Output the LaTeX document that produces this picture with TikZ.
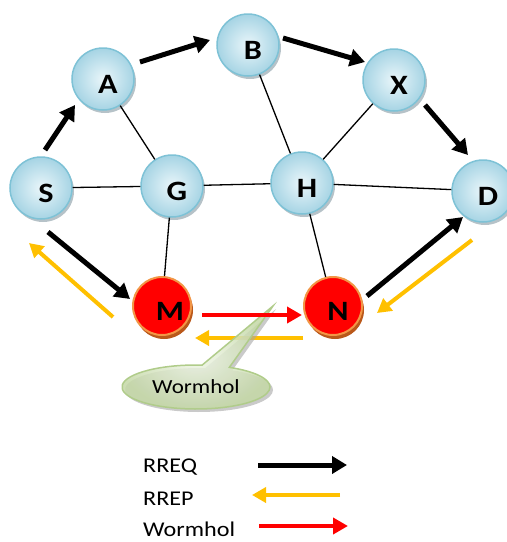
\documentclass[tikz,border=0pt]{standalone}
\usepackage{fontspec}
\setmainfont{Carlito}[FakeStretch=1.15]
\usetikzlibrary{arrows.meta,shadows,shapes.callouts}
\definecolor{nodeblue}{RGB}{166,212,228}
\definecolor{nodelight}{RGB}{234,246,250}
\definecolor{nodeedge}{RGB}{126,194,214}
\definecolor{rrepyellow}{RGB}{255,192,0}
\definecolor{wormedge}{RGB}{242,150,70}
\definecolor{wormshadow}{RGB}{186,88,26}
\definecolor{bubblelight}{RGB}{240,246,232}
\definecolor{bubbledark}{RGB}{196,216,166}
\definecolor{bubbleedge}{RGB}{176,204,138}
\tikzset{
	>=latex,
}
\tikzstyle{station}=[circle,minimum size=62pt,inner sep=0pt,
    draw=nodeedge,line width=1.5pt,inner color=nodelight,outer color=nodeblue,
    drop shadow={shadow xshift=2pt,shadow yshift=-3pt,fill=gray!80!cyan,opacity=.6}]
\tikzstyle{rogue}=[circle,minimum size=58pt,inner sep=0pt,
    draw=wormedge,line width=2pt,fill=red,
    drop shadow={shadow xshift=2pt,shadow yshift=-4pt,fill=wormshadow,opacity=1}]
\tikzstyle{tagtext}=[inner sep=0pt,xshift=5pt,yshift=-5pt,font=\fontsize{28}{30}\selectfont\bfseries]
\tikzstyle{bubble}=[ellipse callout,minimum width=148pt,minimum height=44pt,inner sep=0pt,
    callout pointer arc=22,draw=bubbleedge,line width=1.5pt,
    inner color=bubblelight,outer color=bubbledark,fill opacity=.85,text opacity=1,
    drop shadow={shadow xshift=3pt,shadow yshift=-3pt,fill=gray!70,opacity=.6},
    font=\fontsize{20}{22}\selectfont]
\tikzstyle{link}=[line width=1.3pt]
\tikzstyle{rreq}=[line width=5pt,-{Triangle[length=15pt,width=17pt]}]
\tikzstyle{rrep}=[line width=4pt,rrepyellow,-{Triangle[length=14pt,width=15pt]}]
\tikzstyle{worm}=[line width=4.5pt,red,-{Triangle[length=15pt,width=16pt]}]
\tikzstyle{legend}=[anchor=base west,inner sep=0pt,font=\fontsize{21}{23}\selectfont]

\begin{document}
\begin{tikzpicture}[x=1pt,y=-1pt]
      \useasboundingbox (0,0) rectangle (507,542);
      \node[station,label={[tagtext]center:A}] (A) at (103,79) {};
      \node[station,label={[tagtext]center:B}] (B) at (248,45) {};
      \node[station,label={[tagtext]center:X}] (X) at (394,80) {};
      \node[station,label={[tagtext]center:S}] (S) at (41,188) {};
      \node[station,label={[tagtext]center:G}] (G) at (172,186) {};
      \node[station,label={[tagtext]center:H}] (H) at (302,183) {};
      \node[station,label={[tagtext]center:D}] (D) at (483,191) {};
      \node[rogue,label={[tagtext,xshift=3pt]center:M}] (M) at (162,306) {};
      \node[rogue,label={[tagtext]center:N}] (N) at (333,306) {};
      % plain links
      \draw[link] (S)--(G);
      \draw[link] (G)--(H);
      \draw[link] (H)--(D);
      \draw[link] (A)--(G);
      \draw[link] (B)--(H);
      \draw[link] (X)--(H);
      \draw[link] (G)--(M);
      \draw[link] (H)--(N);
      % route request
      \draw[rreq] ([shift={(4,-38)}]S.center)--([shift={(-28,26)}]A.center);
      \draw[rreq] ([shift={(37,-17)}]A.center)--([shift={(-38,-5)}]B.center);
      \draw[rreq] ([shift={(35,-7)}]B.center)--([shift={(-29,-18)}]X.center);
      \draw[rreq] ([shift={(31,25)}]X.center)--([shift={(-15,-36)}]D.center);
      \draw[rreq] ([shift={(7,44)}]S.center)--([shift={(-32,-7)}]M.center);
      \draw[rreq] ([shift={(34,-10)}]N.center)--([shift={(-20,26)}]D.center);
      % route reply
      \draw[rrep] ([shift={(-11,49)}]D.center)--([shift={(44,7)}]N.center);
      \draw[rrep] ([shift={(-30,32)}]N.center)--([shift={(33,32)}]M.center);
      \draw[rrep] ([shift={(-49,11)}]M.center)--([shift={(-12,55)}]S.center);
      \coordinate (tip) at (273,306);
      \node[bubble,callout absolute pointer={(tip)}] (hole) at (196,387) {Wormhol};
      \draw[worm] ([shift={(40,9)}]M.center)--([shift={(-31,9)}]N.center);
      % legend
      \node[legend] (lreq) at (143,472) {RREQ};
      \node[legend] (lrep) at (143,505) {RREP};
      \node[legend] (lworm) at (143,536) {Wormhol};
      \coordinate (qa) at (258,465);
      \coordinate (qb) at (347,465);
      \coordinate (pa) at (340,495);
      \coordinate (pb) at (252,495);
      \coordinate (wa) at (259,526);
      \coordinate (wb) at (348,526);
      \draw[rreq] (qa)--(qb);
      \draw[rrep] (pa)--(pb);
      \draw[worm] (wa)--(wb);
    \end{tikzpicture}
\end{document}
